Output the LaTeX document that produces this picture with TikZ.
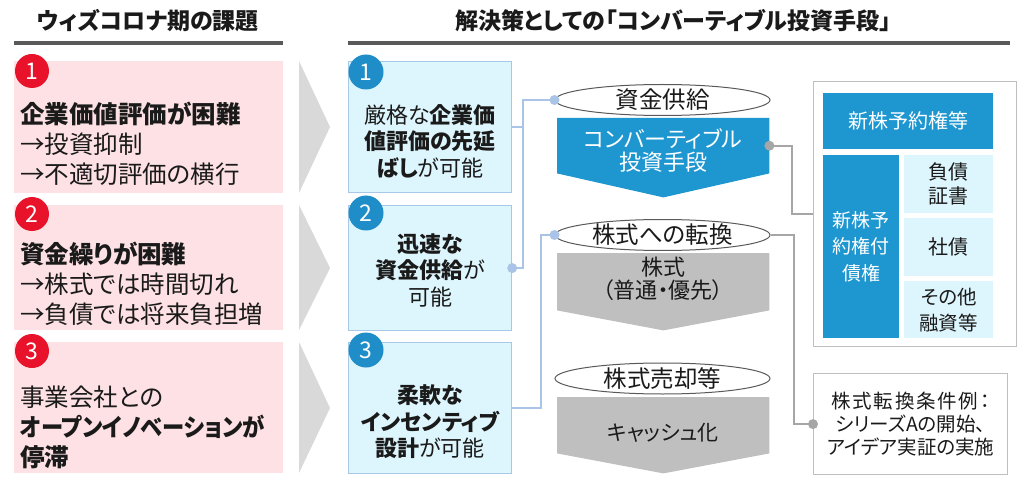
\documentclass[tikz,border=0pt]{standalone}
\usepackage{fontspec}
\setmainfont{Noto Sans CJK JP}[RawFeature=+palt]
\usetikzlibrary{shapes.geometric}
\definecolor{pinkfill}{HTML}{FDE1E4}
\definecolor{redc}{HTML}{E8132B}
\definecolor{cyanfill}{HTML}{DDF5FC}
\definecolor{cyanedge}{HTML}{A8C8E8}
\definecolor{bluec}{HTML}{1F8DC8}
\definecolor{convblue}{HTML}{1E96D0}
\definecolor{grayarrow}{HTML}{BFBFBF}
\definecolor{chev}{HTML}{D9D9D9}
\definecolor{lineblue}{HTML}{A9C4E6}
\definecolor{linegray}{HTML}{A6A6A6}
\definecolor{txt}{HTML}{1A1A1A}
\definecolor{rulec}{HTML}{595959}
\definecolor{outeredge}{HTML}{BFBFBF}
\begin{document}
\begin{tikzpicture}[x=1pt,y=-1pt,
  corner/.style={anchor=north west,inner sep=0pt},
  pinkbox/.style={corner,fill=pinkfill},
  midbox/.style={corner,fill=cyanfill,draw=cyanedge,line width=1.2pt},
  redcirc/.style={circle,fill=redc,text=white,minimum size=34pt,inner sep=0pt,font=\fontsize{23}{23}\selectfont},
  bluecirc/.style={circle,fill=bluec,text=white,minimum size=35pt,inner sep=0pt,font=\fontsize{23}{23}\selectfont},
  lefttxt/.style={anchor=west,align=left,inner sep=0pt,text=txt,font=\fontsize{24.5}{30}\selectfont},
  midtxt/.style={align=center,inner sep=0pt,text=txt,font=\fontsize{22}{26.5}\selectfont},
  ell/.style={ellipse,draw=rulec,line width=1pt,fill=white,minimum width=215pt,minimum height=31pt,inner sep=0pt},
  elltxt/.style={inner sep=0pt,text=txt,font=\fontsize{23.5}{24}\selectfont},
  arrtxt/.style={align=center,inner sep=0pt,font=\fontsize{22}{23}\selectfont},
  bluebox/.style={corner,fill=convblue,text=white,align=center},
  lightbox/.style={corner,fill=cyanfill,text=txt,align=center},
  notebox/.style={corner,draw=outeredge,line width=1.2pt,fill=white,text=txt,align=center,font=\fontsize{19.5}{23}\selectfont},
  hdr/.style={inner sep=0pt,text=txt,font=\bfseries\fontsize{23}{23}\selectfont},
  blueline/.style={draw=lineblue,line width=2pt},
  grayline/.style={draw=linegray,line width=2pt},
  rulestyle/.style={draw=rulec,line width=3.5pt}
]
\useasboundingbox (0,0) rectangle (1024,486);

% headers
\node[hdr] (h1) at (148,21) {ウィズコロナ期の課題};
\node[hdr] (h2) at (673,21) {解決策としての「コンバーティブル投資手段」};
\draw[rulestyle] (14,43) -- (283,43);
\draw[rulestyle] (348,43) -- (1010,43);

% left column
\node[pinkbox,minimum width=269pt,minimum height=132pt] (p1) at (14,61) {};
\node[pinkbox,minimum width=269pt,minimum height=125pt] (p2) at (14,205) {};
\node[pinkbox,minimum width=269pt,minimum height=131pt] (p3) at (14,342) {};
\node[redcirc] (r1) at (32,71) {1};
\node[redcirc] (r2) at (32,214) {2};
\node[redcirc] (r3) at (32,351) {3};
\node[lefttxt] (t1) at (20,144) {\textbf{企業価値評価が困難}\\→投資抑制\\→不適切評価の横行};
\node[lefttxt] (t2) at (20,284) {\textbf{資金繰りが困難}\\→株式では時間切れ\\→負債では将来負担増};
\node[lefttxt] (t3) at (20,427) {事業会社との\\\scalebox{0.91}[1]{\textbf{オープンイノベーションが}}\\\textbf{停滞}};

% chevrons
\fill[chev] (299,61) -- (330,127) -- (299,193) -- cycle;
\fill[chev] (299,205) -- (330,268) -- (299,330) -- cycle;
\fill[chev] (299,342) -- (330,408) -- (299,473) -- cycle;

% middle column
\node[midbox,minimum width=163pt,minimum height=131pt] (m1) at (348,61) {};
\node[midbox,minimum width=163pt,minimum height=125pt] (m2) at (348,205) {};
\node[midbox,minimum width=163pt,minimum height=131pt] (m3) at (348,342) {};
\node[bluecirc] (b1c) at (366,72) {1};
\node[bluecirc] (b2c) at (366,213) {2};
\node[bluecirc] (b3c) at (366,350) {3};
\node[midtxt] (mt1) at (430,141) {厳格な\textbf{企業価}\\\textbf{値評価の先延}\\\textbf{ばし}が可能};
\node[midtxt] (mt2) at (430,270) {\textbf{迅速な}\\\textbf{資金供給}が\\可能};
\node[midtxt] (mt3) at (430,422) {\textbf{柔軟な}\\\textbf{インセンティブ}\\\textbf{設計}が可能};

% instruments column
\node[ell] (e1) at (662.5,100) {};
\node[elltxt] (e1t) at (e1.center) {資金供給};
\node[corner,minimum width=212pt,minimum height=55pt] (conv) at (557,118) {};
\fill[convblue] (conv.north west) -- (conv.north east) -- (conv.south east) -- ++(-106,24) -- (conv.south west) -- cycle;
\node[arrtxt,text=white] (convt) at (663,150) {コンバーティブル\\投資手段};

\node[ell] (e2) at (662.5,235) {};
\node[elltxt] (e2t) at (e2.center) {株式への転換};
\node[corner,minimum width=212pt,minimum height=57pt] (stock) at (557,253) {};
\fill[grayarrow] (stock.north west) -- (stock.north east) -- (stock.south east) -- ++(-106,20) -- (stock.south west) -- cycle;
\node[arrtxt,text=txt] (stockt) at (663,279) {株式\\（普通・優先）};

\node[ell] (e3) at (662.5,378.5) {};
\node[elltxt] (e3t) at (e3.center) {株式売却等};
\node[corner,minimum width=212pt,minimum height=56pt] (cash) at (557,397) {};
\fill[grayarrow] (cash.north west) -- (cash.north east) -- (cash.south east) -- ++(-106,20) -- (cash.south west) -- cycle;
\node[arrtxt,text=txt,font=\fontsize{21}{22}\selectfont] (casht) at (663,433) {キャッシュ化};

% right box
\node[corner,draw=outeredge,line width=1.2pt,fill=white,minimum width=203pt,minimum height=265pt] (outer) at (813,81) {};
\node[bluebox,minimum width=170pt,minimum height=56pt,font=\fontsize{20}{20}\selectfont] (nsy) at (823,93) {新株予約権等};
\node[bluebox,minimum width=76pt,minimum height=183pt,font=\fontsize{19}{26.5}\selectfont] (nsb) at (823,155) {新株予\\約権付\\債権};
\node[lightbox,minimum width=89pt,minimum height=58pt,font=\fontsize{20}{24}\selectfont] (lb1) at (904,155) {負債\\証書};
\node[lightbox,minimum width=89pt,minimum height=58pt,font=\fontsize{20}{24}\selectfont] (lb2) at (904,218) {社債};
\node[lightbox,minimum width=89pt,minimum height=57pt,font=\fontsize{19.5}{26}\selectfont] (lb3) at (904,281) {その他\\融資等};

\node[notebox,minimum width=194pt,minimum height=101pt] (note) at (813,373) {{\addfontfeatures{LetterSpace=9}株式転換条件例：}\\シリーズAの開始、\\アイデア実証の実施};

% connectors (blue)
\draw[blueline] (m1.east) -- ++(11,0) |- (e1.west);
\draw[blueline] (m2.east) -- ++(11,0) |- (e1.west);
\draw[blueline] (m3.east) -- ++(29,0) |- (e2.west);
\fill[lineblue] (m2.east) circle (5pt);
\fill[lineblue] (e1.west) circle (5pt);
\fill[lineblue] (e2.west) circle (5pt);

% connectors (gray)
\draw[grayline] (conv.east) -- ++(23,0) |- (outer.west);
\draw[grayline] (e2.east) -- ++(23,0) |- (note.west);
\fill[linegray] (conv.east) circle (5pt);
\fill[linegray] (note.west) circle (5pt);
\end{tikzpicture}
\end{document}
